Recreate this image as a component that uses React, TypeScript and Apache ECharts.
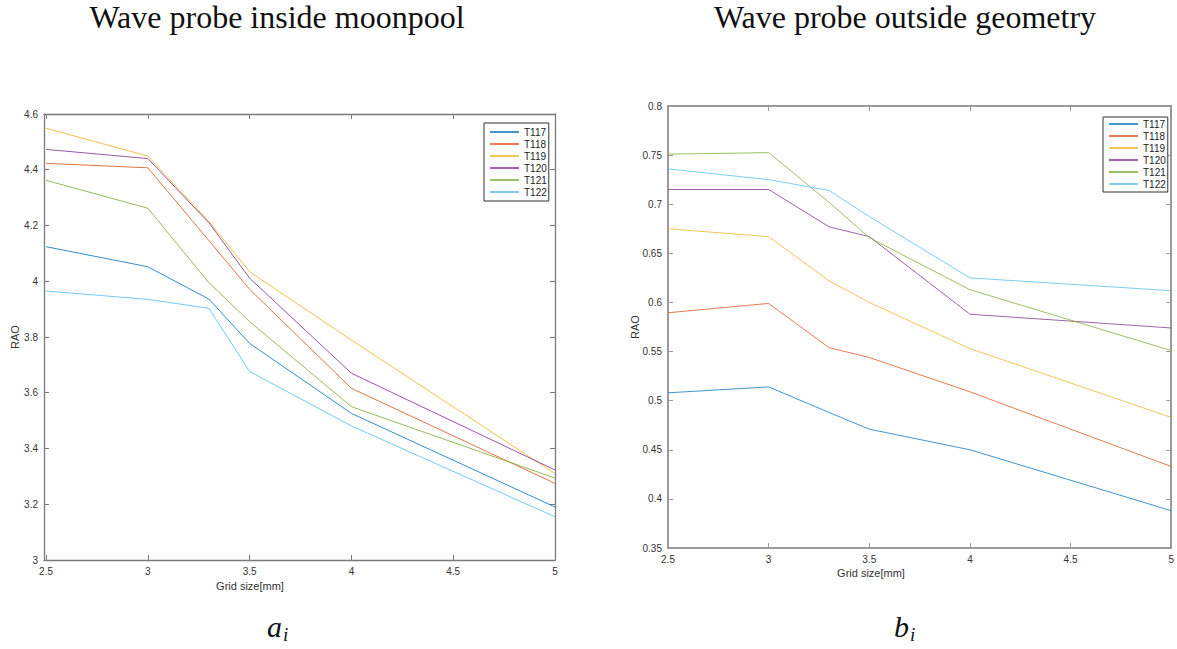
import React, { useEffect, useRef } from "react";
import * as echarts from "echarts";

const gridSizes = [2.5, 3, 3.3, 3.5, 4, 5];
const seriesNames = ["T117", "T118", "T119", "T120", "T121", "T122"];
const colors = ["#0072BD", "#D95319", "#EDB120", "#7E2F8E", "#77AC30", "#4DBEEE"];

// Wave probe inside moonpool
const insideT117 = [4.124, 4.052, 3.936, 3.777, 3.526, 3.19];
const insideT118 = [4.423, 4.407, 4.146, 3.971, 3.616, 3.275];
const insideT119 = [4.549, 4.449, 4.214, 4.034, 3.789, 3.31];
const insideT120 = [4.473, 4.44, 4.21, 4.011, 3.67, 3.323];
const insideT121 = [4.362, 4.262, 3.995, 3.855, 3.55, 3.294];
const insideT122 = [3.965, 3.935, 3.903, 3.676, 3.481, 3.155];

// Wave probe outside geometry
const outsideT117 = [0.508, 0.514, 0.488, 0.471, 0.45, 0.388];
const outsideT118 = [0.5895, 0.599, 0.554, 0.544, 0.509, 0.433];
const outsideT119 = [0.675, 0.667, 0.622, 0.6, 0.553, 0.483];
const outsideT120 = [0.715, 0.715, 0.677, 0.667, 0.588, 0.574];
const outsideT121 = [0.751, 0.7525, 0.702, 0.666, 0.613, 0.551];
const outsideT122 = [0.736, 0.725, 0.714, 0.6875, 0.625, 0.612];

const xTickValues = [2.5, 3, 3.5, 4, 4.5, 5];

const insideData = [insideT117, insideT118, insideT119, insideT120, insideT121, insideT122];
const outsideData = [outsideT117, outsideT118, outsideT119, outsideT120, outsideT121, outsideT122];

const FONT = "Liberation Sans";

export default function App() {
  const ref = useRef<HTMLDivElement>(null);

  useEffect(() => {
    document.body.style.margin = "0";
    if (!ref.current) return;
    const chart = echarts.init(ref.current, undefined, { renderer: "svg" });

    const axisColL = "#7a7a7a";
    const axisColR = "#9a9a9a";

    const xAxisCommon = (grid: number, min: number, pos: string, labels: boolean, col: string, w: number) => ({
      type: "value",
      gridIndex: grid,
      position: pos,
      min,
      max: 5,
      interval: 0.5,
      axisLine: { show: true, onZero: false, lineStyle: { color: col, width: w } },
      axisTick: { show: true, inside: true, length: 5, customValues: xTickValues, lineStyle: { color: col, width: 1 } },
      axisLabel: {
        show: labels,
        customValues: xTickValues,
        margin: 6,
        fontSize: 10,
        color: "#333",
        fontFamily: FONT,
      },
      splitLine: { show: false },
    });

    const yAxisCommon = (grid: number, min: number, max: number, interval: number, pos: string, labels: boolean, col: string, w: number) => ({
      type: "value",
      gridIndex: grid,
      position: pos,
      min,
      max,
      interval,
      axisLine: { show: true, onZero: false, lineStyle: { color: col, width: w } },
      axisTick: { show: true, inside: true, length: 5, lineStyle: { color: col, width: 1 } },
      axisLabel: { show: labels, margin: 6, fontSize: 10, color: "#333", fontFamily: FONT },
      splitLine: { show: false },
    });

    const series: any[] = [];
    seriesNames.forEach((name, i) => {
      series.push({
        name,
        type: "line",
        xAxisIndex: 0,
        yAxisIndex: 0,
        symbol: "none",
        data: gridSizes.map((x, k) => [x, insideData[i][k]]),
        lineStyle: { color: colors[i], width: 1, opacity: 0.8 },
        itemStyle: { color: colors[i] },
      });
    });
    seriesNames.forEach((name, i) => {
      series.push({
        name,
        type: "line",
        xAxisIndex: 2,
        yAxisIndex: 2,
        symbol: "none",
        data: gridSizes.map((x, k) => [x, outsideData[i][k]]),
        lineStyle: { color: colors[i], width: 1, opacity: 0.75 },
        itemStyle: { color: colors[i] },
      });
    });

    const legendCommon = {
      orient: "vertical",
      icon: "rect",
      itemWidth: 29,
      itemHeight: 1.5,
      itemGap: 0,
      borderColor: "#333",
      borderWidth: 1,
      backgroundColor: "#fff",
      selectedMode: false,
      textStyle: { fontSize: 10, fontFamily: FONT, color: "#222", lineHeight: 12, padding: [0, 0, 0, 0] },
      data: seriesNames,
    };

    const text = (t: string, x: number, y: number, size: number, opts: any = {}) => ({
      type: "text",
      x,
      y,
      rotation: opts.rotation || 0,
      style: {
        text: t,
        x: 0,
        y: 0,
        fontSize: size,
        fontFamily: opts.family || FONT,
        fontStyle: opts.italic ? "italic" : "normal",
        fill: opts.color || "#333",
        textAlign: opts.align || "center",
        textVerticalAlign: "middle",
      },
    });

    chart.setOption({
      animation: false,
      backgroundColor: "#fff",
      grid: [
        { left: 44, top: 114, width: 511, height: 446 },
        { left: 668, top: 106, width: 505, height: 442 },
      ],
      xAxis: [
        xAxisCommon(0, 2.49, "bottom", true, axisColL, 1.3),
        xAxisCommon(0, 2.49, "top", false, axisColL, 1.3),
        xAxisCommon(1, 2.5, "bottom", true, axisColR, 2),
        xAxisCommon(1, 2.5, "top", false, axisColR, 2),
      ],
      yAxis: [
        yAxisCommon(0, 3, 4.6, 0.2, "left", true, axisColL, 1.3),
        yAxisCommon(0, 3, 4.6, 0.2, "right", false, axisColL, 1.3),
        yAxisCommon(1, 0.35, 0.8, 0.05, "left", true, axisColR, 2),
        yAxisCommon(1, 0.35, 0.8, 0.05, "right", false, axisColR, 2),
      ],
      legend: [
        { ...legendCommon, left: 484, top: 123, padding: [3, 2, 3, 6] },
        { ...legendCommon, left: 1103, top: 117, padding: [1, 2, 2, 6] },
      ],
      series,
      graphic: [
        text("Wave probe inside moonpool", 277, 17, 32, { family: "Liberation Serif", color: "#111" }),
        text("Wave probe outside geometry", 905, 17, 32, { family: "Liberation Serif", color: "#111" }),
        text("Grid size[mm]", 250, 586, 11),
        text("RAO", 15, 337, 11, { rotation: Math.PI / 2 }),
        text("Grid size[mm]", 871, 573, 11),
        text("RAO", 635, 327, 11, { rotation: Math.PI / 2 }),
        text("a", 267, 626, 30, { family: "Liberation Serif", italic: true, color: "#111", align: "left" }),
        text("i", 283, 634, 19, { family: "Liberation Serif", italic: true, color: "#111", align: "left" }),
        text("b", 894, 626, 30, { family: "Liberation Serif", italic: true, color: "#111", align: "left" }),
        text("i", 910, 634, 19, { family: "Liberation Serif", italic: true, color: "#111", align: "left" }),
      ],
    });

    return () => chart.dispose();
  }, []);

  return <div ref={ref} style={{ width: 1177, height: 649 }} />;
}
